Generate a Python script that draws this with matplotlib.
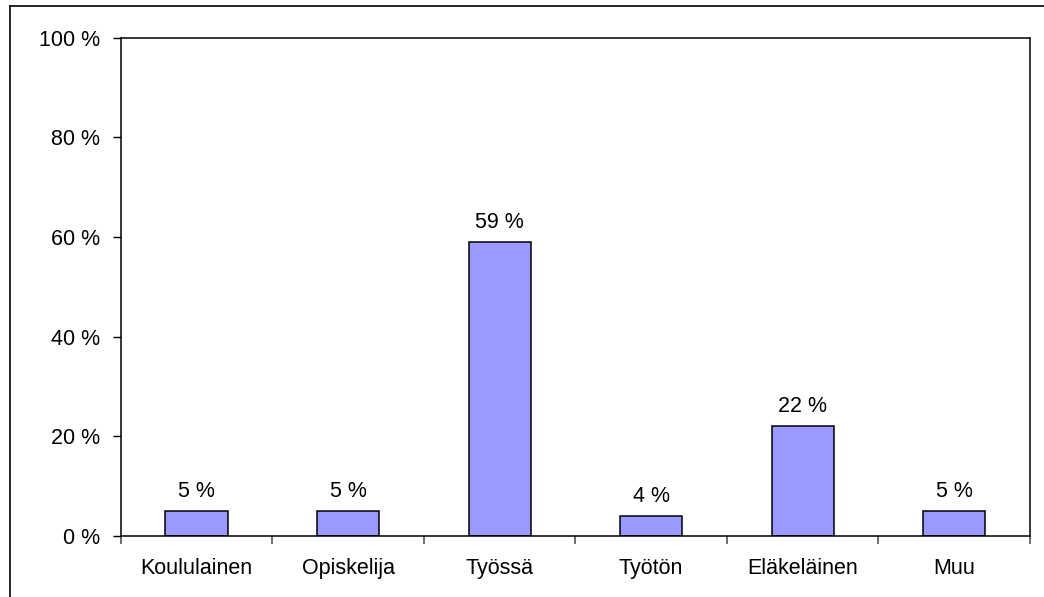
import matplotlib
matplotlib.use("Agg")
import matplotlib.pyplot as plt
from matplotlib.lines import Line2D
from matplotlib.ticker import FixedLocator

categories = ["Koululainen", "Opiskelija", "Työssä", "Työtön", "Eläkeläinen", "Muu"]
shares = [5, 5, 59, 4, 22, 5]
y_ticks = [0, 20, 40, 60, 80, 100]
y_tick_labels = [f"{v} %" for v in y_ticks]

plt.rcParams["font.family"] = ["Liberation Sans", "DejaVu Sans"]
FS = 15.5

fig = plt.figure(figsize=(10.44, 5.97), dpi=100)
ax = fig.add_axes([0.1156, 0.1027, 0.871, 0.834])

x = list(range(len(categories)))
bars = ax.bar(x, shares, width=0.41, color="#9999FF", edgecolor="black", linewidth=1.1, zorder=2)

for xi, v in zip(x, shares):
    ax.annotate(f"{v} %", (xi, v), xytext=(0, 6.5), textcoords="offset points",
                ha="center", va="bottom", fontsize=FS)

ax.set_xlim(-0.5, len(categories) - 0.5)
ax.set_ylim(0, 100)

ax.set_yticks(y_ticks)
ax.set_yticklabels(y_tick_labels, fontsize=FS)
ax.tick_params(axis="y", length=6, width=1, pad=9, direction="out")

ax.set_xticks(x)
ax.set_xticklabels(categories, fontsize=FS)
ax.tick_params(axis="x", which="major", length=0, pad=16)
ax.xaxis.set_minor_locator(FixedLocator([i - 0.5 for i in range(len(categories) + 1)]))
ax.tick_params(axis="x", which="minor", length=6, width=1.2, color="#555555", direction="out")

for s in ax.spines.values():
    s.set_linewidth(1.1)
    s.set_color("black")

# figure frame (only top and left edges are visible in the crop)
fig.add_artist(Line2D([10 / 1044, 1.0], [1 - 6 / 597, 1 - 6 / 597], transform=fig.transFigure,
                      color="black", linewidth=1.2))
fig.add_artist(Line2D([10 / 1044, 10 / 1044], [0.0, 1 - 6 / 597], transform=fig.transFigure,
                      color="black", linewidth=1.2))

fig.savefig("out.png", dpi=100)
